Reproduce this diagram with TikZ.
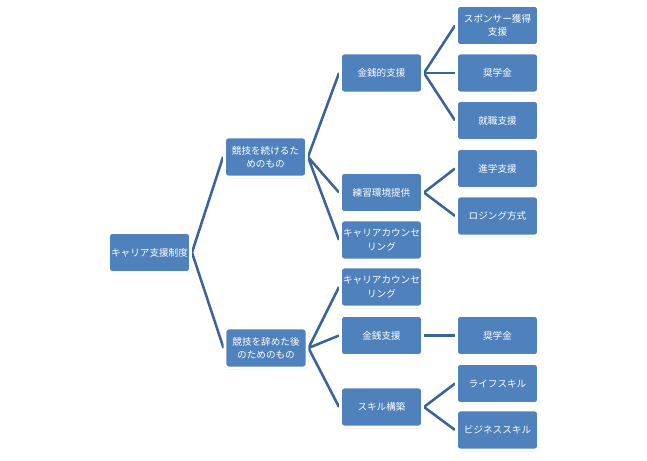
\documentclass[tikz,border=0pt]{standalone}
\usepackage{fontspec}
\setmainfont{Noto Sans CJK JP}
\usetikzlibrary{shadows,backgrounds}
\definecolor{boxblue}{RGB}{79,129,189}
\definecolor{linkblue}{RGB}{58,99,155}
\tikzset{
  x=0.75pt, y=-0.75pt,
  box/.style={draw=white, line width=2.2pt, fill=boxblue, rounded corners=2.5pt,
    minimum width=61.5pt, minimum height=30pt, inner sep=0pt,
    text=white, font=\fontsize{7.2pt}{10pt}\selectfont, align=center,
    drop shadow={opacity=0.35, shadow xshift=0.8pt, shadow yshift=-1pt, fill=gray}},
  link/.style={draw=linkblue, line width=1.9pt}
}
\begin{document}
\begin{tikzpicture}
\useasboundingbox (0,0) rectangle (647,461);
\node[box] (root) at (149.5,252.5) {キャリア支援制度};
\node[box] (a) at (265.5,157) {競技を続けるた\\めのもの};
\node[box] (b) at (266,348) {競技を辞めた後\\のためのもの};
\node[box] (a1) at (381.5,73) {金銭的支援};
\node[box] (a2) at (381.5,192.5) {練習環境提供};
\node[box] (a3) at (381.5,240) {キャリアカウンセ\\リング};
\node[box] (b1) at (381.5,287) {キャリアカウンセ\\リング};
\node[box] (b2) at (381.5,335.5) {金銭支援};
\node[box] (b3) at (381.5,407) {スキル構築};
\node[box] (a11) at (497.5,25.5) {スポンサー獲得\\支援};
\node[box] (a12) at (497.5,73) {奨学金};
\node[box] (a13) at (497.5,120.5) {就職支援};
\node[box] (a21) at (497.5,168.5) {進学支援};
\node[box] (a22) at (497.5,216) {ロジング方式};
\node[box] (b21) at (497.5,335.5) {奨学金};
\node[box] (b31) at (497.5,383.5) {ライフスキル};
\node[box] (b32) at (497.5,430) {ビジネススキル};
\begin{scope}[on background layer]
\fill[white] (0,0) rectangle (647,461);
\draw[link] (root.east) -- (a.west);
\draw[link] (root.east) -- (b.west);
\draw[link] (a.east) -- (a1.west);
\draw[link] (a.east) -- (a2.west);
\draw[link] (a.east) -- (a3.west);
\draw[link] (b.east) -- (b1.west);
\draw[link] (b.east) -- (b2.west);
\draw[link] (b.east) -- (b3.west);
\draw[link] (a1.east) -- (a11.west);
\draw[link] (a1.east) -- (a12.west);
\draw[link] (a1.east) -- (a13.west);
\draw[link] (a2.east) -- (a21.west);
\draw[link] (a2.east) -- (a22.west);
\draw[link] (b2.east) -- (b21.west);
\draw[link] (b3.east) -- (b31.west);
\draw[link] (b3.east) -- (b32.west);
\end{scope}
\end{tikzpicture}
\end{document}
